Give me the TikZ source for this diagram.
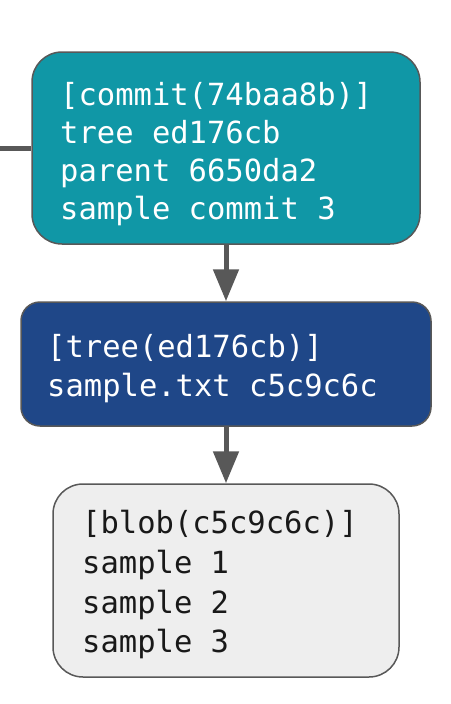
\documentclass[tikz,border=0pt]{standalone}
\usepackage{fontspec}
\setmonofont{DejaVu Sans Mono}
\usetikzlibrary{arrows.meta}
\definecolor{teal1}{HTML}{1097A6}
\definecolor{navy1}{HTML}{1F4788}
\definecolor{blobfill}{HTML}{EEEEEE}
\definecolor{edge}{HTML}{585858}
\tikzset{
  box/.style={draw=edge, line width=1.5pt, inner sep=0pt},
  commitbox/.style={box, fill=teal1, rounded corners=30pt, minimum width=388pt, minimum height=192pt},
  treebox/.style={box, fill=navy1, rounded corners=19pt, minimum width=410pt, minimum height=124pt},
  blobbox/.style={box, fill=blobfill, rounded corners=30pt, minimum width=346pt, minimum height=193pt},
  txt/.style={anchor=base west, inner sep=0pt, font=\ttfamily\fontsize{30.5pt}{36pt}\selectfont},
  wtxt/.style={txt, text=white},
  btxt/.style={txt, text=black!90},
  conn/.style={draw=edge, line width=5pt},
  arr/.style={conn, -{Triangle[length=32pt,width=25pt]}}
}
\begin{document}
\begin{tikzpicture}[x=1pt,y=-1pt]
\useasboundingbox (0,0) rectangle (450,704);
\node[commitbox] (commit) at (226,148) {};
\node[treebox] (tree) at (226,364) {};
\node[blobbox] (blob) at (226,580.5) {};
\coordinate (leftend) at (0,148);
\draw[conn] (leftend) -- (commit.west);
\draw[arr] (commit.south) -- (tree.north);
\draw[arr] (tree.south) -- (blob.north);
\node[wtxt] (c1) at (60,105) {[commit(74baa8b)]};
\node[wtxt] (c2) at (60,143) {tree ed176cb};
\node[wtxt] (c3) at (60,181) {parent 6650da2};
\node[wtxt] (c4) at (60,219) {sample commit 3};
\node[wtxt] (t1) at (47,357) {[tree(ed176cb)]};
\node[wtxt] (t2) at (47,396) {sample.txt c5c9c6c};
\node[btxt] (b1) at (82,533) {[blob(c5c9c6c)]};
\node[btxt] (b2) at (82,573) {sample 1};
\node[btxt] (b3) at (82,613) {sample 2};
\node[btxt] (b4) at (82,652) {sample 3};
\end{tikzpicture}
\end{document}
